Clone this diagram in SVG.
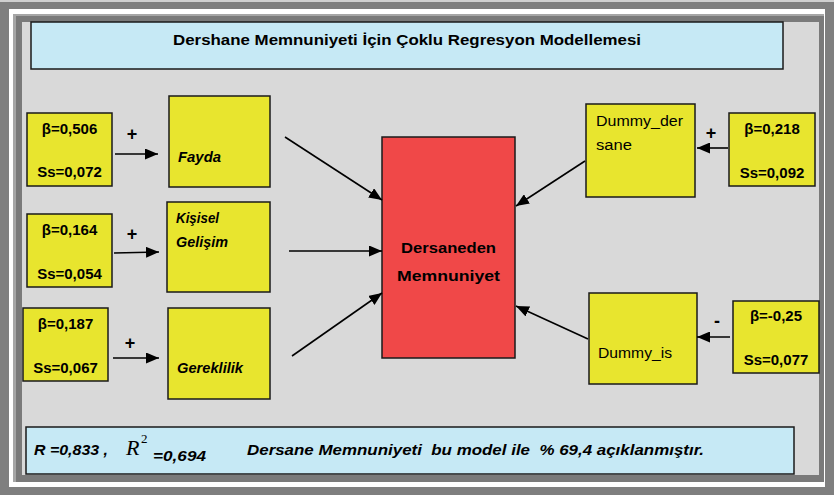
<svg xmlns="http://www.w3.org/2000/svg" width="834" height="495" viewBox="0 0 834 495">
<style>
.b{font-family:"Liberation Sans",Arial,sans-serif;font-weight:bold;font-size:15px;fill:#000}
.bi{font-family:"Liberation Sans",Arial,sans-serif;font-weight:bold;font-style:italic;font-size:14.5px;fill:#000}
.r{font-family:"Liberation Sans",Arial,sans-serif;font-size:14px;fill:#000}
.s{font-family:"Liberation Sans",Arial,sans-serif;font-weight:bold;font-size:18px;fill:#000}
.y{fill:#e8e52e;stroke:#1a1a1a;stroke-width:1.5}
.lb{fill:#c6e9f5;stroke:#1a1a1a;stroke-width:1.5}
.ar{stroke:#000;stroke-width:1.6;fill:none;marker-end:url(#ah)}
</style>
<defs>
<marker id="ah" markerUnits="userSpaceOnUse" markerWidth="13" markerHeight="11" refX="13" refY="5.5" orient="auto">
<path d="M0,0 L13,5.5 L0,11 z" fill="#000"/>
</marker>
</defs>
<g id="frame">
<rect x="0" y="0" width="834" height="495" fill="#d0d0d0"/>
<rect x="0" y="2" width="834" height="493" fill="#7f7f7f"/>
<rect x="9" y="9" width="816" height="478" fill="#ffffff"/>
<rect x="13" y="14" width="811" height="468" fill="#a6a6a6"/>
<rect x="16" y="16" width="808" height="466" fill="#7a7a7a"/>
<rect x="22" y="22" width="797" height="453" fill="#d9d9d9"/>
</g>
<g id="title">
<rect class="lb" x="31" y="22" width="752" height="47"/>
<text class="b" x="173" y="45" font-size="16" textLength="468" lengthAdjust="spacingAndGlyphs">Dershane Memnuniyeti İçin Çoklu Regresyon Modellemesi</text>
</g>
<g id="beta1">
<rect class="y" x="27" y="113" width="85" height="73"/>
<text class="b" x="69.5" y="134" text-anchor="middle">β=0,506</text>
<text class="b" x="69.5" y="177" text-anchor="middle">Ss=0,072</text>
</g>
<g id="beta2">
<rect class="y" x="27" y="214" width="85" height="73"/>
<text class="b" x="69.5" y="235" text-anchor="middle">β=0,164</text>
<text class="b" x="69.5" y="279" text-anchor="middle">Ss=0,054</text>
</g>
<g id="beta3">
<rect class="y" x="23" y="308" width="85" height="73"/>
<text class="b" x="65.5" y="329" text-anchor="middle">β=0,187</text>
<text class="b" x="65.5" y="373" text-anchor="middle">Ss=0,067</text>
</g>
<g id="fayda">
<rect class="y" x="169" y="96" width="101" height="91"/>
<text class="bi" x="178" y="162" textLength="43" lengthAdjust="spacingAndGlyphs">Fayda</text>
</g>
<g id="kisisel">
<rect class="y" x="167" y="202" width="103" height="90"/>
<text class="bi" x="176" y="223" textLength="43" lengthAdjust="spacingAndGlyphs">Kişisel</text>
<text class="bi" x="176" y="247" textLength="52" lengthAdjust="spacingAndGlyphs">Gelişim</text>
</g>
<g id="gereklilik">
<rect class="y" x="168" y="308" width="102" height="91"/>
<text class="bi" x="177" y="373" textLength="66" lengthAdjust="spacingAndGlyphs">Gereklilik</text>
</g>
<g id="memnuniyet">
<rect x="382" y="137" width="133" height="221" fill="#f04848" stroke="#1a1a1a" stroke-width="1.5"/>
<text class="b" x="448.5" y="253" font-size="16" text-anchor="middle" textLength="95" lengthAdjust="spacingAndGlyphs">Dersaneden</text>
<text class="b" x="448.5" y="281" font-size="16" text-anchor="middle" textLength="103" lengthAdjust="spacingAndGlyphs">Memnuniyet</text>
</g>
<g id="dummy_dersane">
<rect class="y" x="586" y="104" width="109" height="93"/>
<text class="r" x="596" y="126" textLength="87" lengthAdjust="spacingAndGlyphs">Dummy_der</text>
<text class="r" x="596" y="150" textLength="36" lengthAdjust="spacingAndGlyphs">sane</text>
</g>
<g id="beta4">
<rect class="y" x="729" y="113" width="86" height="73"/>
<text class="b" x="772" y="134" text-anchor="middle">β=0,218</text>
<text class="b" x="772" y="178" text-anchor="middle">Ss=0,092</text>
</g>
<g id="dummy_is">
<rect class="y" x="589" y="293" width="108" height="91"/>
<text class="r" x="598" y="358" textLength="74" lengthAdjust="spacingAndGlyphs">Dummy_is</text>
</g>
<g id="beta5">
<rect class="y" x="733" y="301" width="86" height="72"/>
<text class="b" x="776" y="321" text-anchor="middle">β=-0,25</text>
<text class="b" x="776" y="365" text-anchor="middle">Ss=0,077</text>
</g>
<g id="connectors">
<line class="ar" x1="115" y1="154" x2="158" y2="154"/>
<line class="ar" x1="114" y1="253" x2="159" y2="252"/>
<line class="ar" x1="113" y1="358" x2="159" y2="358"/>
<line class="ar" x1="285" y1="137" x2="382" y2="200"/>
<line class="ar" x1="289" y1="251" x2="382" y2="251"/>
<line class="ar" x1="292" y1="356" x2="382" y2="293"/>
<line class="ar" x1="585" y1="161" x2="516" y2="206"/>
<line class="ar" x1="588" y1="339" x2="516" y2="306"/>
<line class="ar" x1="728" y1="148" x2="697" y2="148"/>
<line class="ar" x1="730" y1="337" x2="697" y2="337"/>
<text class="s" x="132" y="140" text-anchor="middle">+</text>
<text class="s" x="132" y="240" text-anchor="middle">+</text>
<text class="s" x="130" y="349" text-anchor="middle">+</text>
<text class="s" x="711" y="139" text-anchor="middle">+</text>
<text class="s" x="717" y="327" text-anchor="middle">-</text>
</g>
<g id="summary">
<rect class="lb" x="26" y="427" width="768" height="47"/>
<text class="bi" x="34" y="455" font-size="15" textLength="74" lengthAdjust="spacingAndGlyphs">R =0,833 ,</text>
<text x="126" y="455" font-family="'Liberation Serif','Times New Roman',serif" font-style="italic" font-size="22">R</text>
<text x="141" y="443" font-family="'Liberation Serif','Times New Roman',serif" font-size="13">2</text>
<text class="bi" x="153" y="461" font-size="15" textLength="53" lengthAdjust="spacingAndGlyphs">=0,694</text>
<text class="bi" x="247" y="455" font-size="15" xml:space="preserve" textLength="457" lengthAdjust="spacingAndGlyphs">Dersane Memnuniyeti  bu model ile  % 69,4 açıklanmıştır.</text>
</g>
</svg>
